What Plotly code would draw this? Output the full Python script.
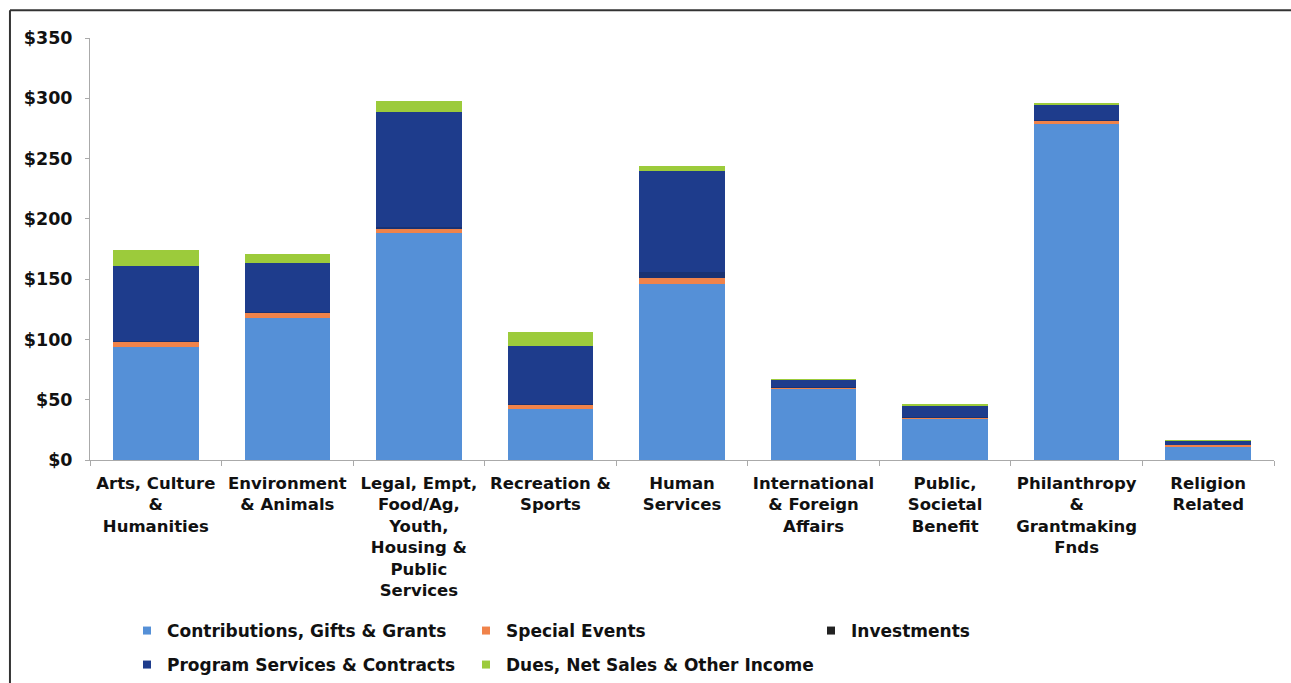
import plotly.graph_objects as go

categories = [
    "Arts, Culture<br>&<br>Humanities",
    "Environment<br>& Animals",
    "Legal, Empt,<br>Food/Ag,<br>Youth,<br>Housing &<br>Public<br>Services",
    "Recreation &<br>Sports",
    "Human<br>Services",
    "International<br>& Foreign<br>Affairs",
    "Public,<br>Societal<br>Benefit",
    "Philanthropy<br>&<br>Grantmaking<br>Fnds",
    "Religion<br>Related",
]

contributions = [94, 118, 188, 42, 146, 59.5, 34.5, 278.5, 11.5]
special_events = [4, 4, 4, 4, 5, 1, 1, 3, 1]
investments = [1, 1, 1, 0.5, 5, 0.3, 0.3, 0.5, 0.3]
program_services = [62, 40, 96, 48, 84, 6, 9, 12.5, 3]
dues = [13, 8, 9, 11.5, 3.5, 0.3, 1.5, 0.8, 0.5]

series_names = ["Contributions, Gifts & Grants", "Special Events", "Investments",
                "Program Services & Contracts", "Dues, Net Sales & Other Income"]
series_values = [contributions, special_events, investments, program_services, dues]
series_colors = ["#5590D7", "#F0834A", "#1A3272", "#1E3C8C", "#9CCB3B"]
legend_marker_colors = ["#5590D7", "#F0834A", "#222222", "#1E3C8C", "#9CCB3B"]
legend_ids = ["legend", "legend2", "legend3", "legend4", "legend5"]

fig = go.Figure()
for name, vals, col in zip(series_names, series_values, series_colors):
    fig.add_trace(go.Bar(x=categories, y=vals, name=name, showlegend=False,
                         marker=dict(color=col, line=dict(width=0))))
# legend entries (small square markers like the original)
for name, col, lg in zip(series_names, legend_marker_colors, legend_ids):
    fig.add_trace(go.Scatter(x=[None], y=[None], mode="markers", name=name,
                             legend=lg,
                             marker=dict(symbol="square", size=8, color=col)))

font_family = "DejaVu Sans"
legend_font = dict(size=17, family=font_family, weight="bold", color="#111111")

# legend item placement (container px): text starts ~40px right of x
legend_pos = {
    "legend": (127, 613),
    "legend2": (466, 613),
    "legend3": (811, 613),
    "legend4": (127, 647),
    "legend5": (466, 647),
}
W, H = 1291, 683
legend_layout = {}
for lg, (px, py) in legend_pos.items():
    legend_layout[lg] = dict(
        orientation="h", xref="container", yref="container",
        x=px / W, y=1 - py / H, xanchor="left", yanchor="top",
        font=legend_font, itemwidth=30, bgcolor="rgba(0,0,0,0)",
    )

fig.update_layout(
    barmode="stack",
    bargap=0.35,
    width=W, height=H,
    margin=dict(l=90, r=17, t=38, b=223, autoexpand=False),
    paper_bgcolor="white", plot_bgcolor="white",
    font=dict(family=font_family, color="#111111"),
    showlegend=True,
    **legend_layout,
)
fig.update_xaxes(
    showline=True, linecolor="#aaaaaa", linewidth=1, automargin=False,
    ticks="outside", tickson="boundaries", ticklen=5, tickcolor="#aaaaaa",
    tickfont=dict(size=16.5, family=font_family, weight="bold", color="#111111"),
    tickangle=0, showgrid=False, ticklabelstandoff=8,
)
fig.update_yaxes(
    range=[0, 350], dtick=50, tickprefix="$", automargin=False,
    showline=True, linecolor="#aaaaaa", linewidth=1,
    ticks="outside", ticklen=4, tickcolor="#aaaaaa",
    tickfont=dict(size=17.5, family=font_family, weight="bold", color="#111111"),
    showgrid=False, zeroline=False, ticklabelstandoff=9,
)
# frame lines (left and top border of the chart box)
fig.add_shape(type="line", xref="paper", yref="paper",
              x0=-0.0676, x1=1.02, y0=1.066, y1=1.066,
              line=dict(color="#333333", width=2))
fig.add_shape(type="line", xref="paper", yref="paper",
              x0=-0.0676, x1=-0.0676, y0=1.066, y1=-0.6,
              line=dict(color="#333333", width=2))

fig.write_html("out.html")
